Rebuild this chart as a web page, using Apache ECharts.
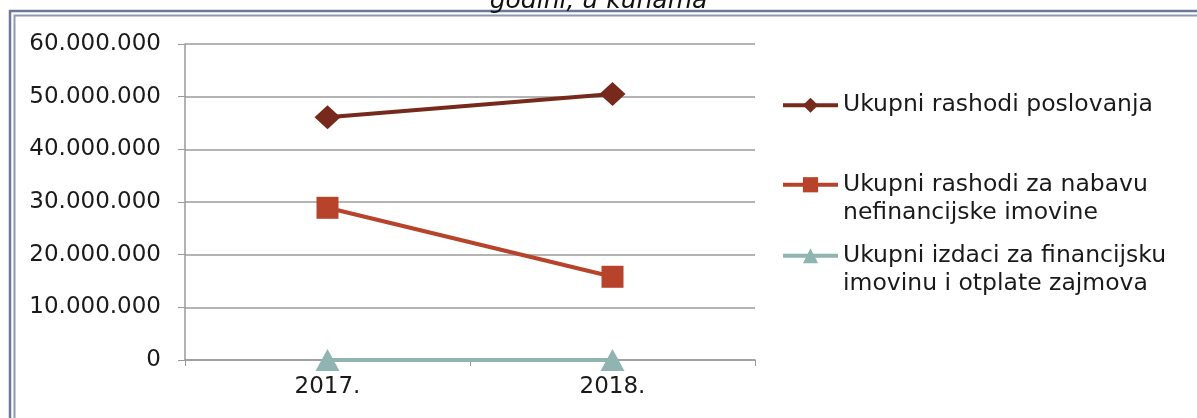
<!DOCTYPE html>
<html>
<head>
<meta charset="utf-8">
<script src="https://cdn.jsdelivr.net/npm/echarts@6/dist/echarts.min.js"></script>
<style>
  html, body { margin: 0; padding: 0; background: #ffffff; }
  #chart { width: 1197px; height: 418px; }
</style>
</head>
<body>
<div id="chart"></div>
<script>
// Years shown on the category axis
const years = ['2017.', '2018.'];

// Series names (legend text)
const seriesNames = [
  'Ukupni rashodi poslovanja',
  'Ukupni rashodi za nabavu\nnefinancijske imovine',
  'Ukupni izdaci za financijsku\nimovinu i otplate zajmova'
];

// Values in kuna per year
const rashodiPoslovanja = [46100000, 50500000];
const rashodiNefinancijska = [28900000, 15800000];
const izdaciFinancijska = [0, 0];

// Value axis range and step
const yMin = 0;
const yMax = 60000000;
const yStep = 10000000;

const FONT = "'DejaVu Sans', 'Liberation Sans', Arial, sans-serif";

function fmtThousands(v) {
  return String(v).replace(/\B(?=(\d{3})+(?!\d))/g, '.');
}

const chart = echarts.init(document.getElementById('chart'), null, { renderer: 'canvas' });

const legendText = {
  fontFamily: FONT, fontSize: 23.5, color: '#1a1a1a', lineHeight: 28.5
};

// Two-line names get a leading blank line so the first text line sits beside the icon
const twoLineFormatter = name => name.indexOf('\n') >= 0 ? '\n' + name : name;

function legendItem(name, top) {
  return {
    data: [name], orient: 'vertical', left: 781, top: top, padding: 0,
    itemWidth: 55, itemHeight: 19, itemGap: 0,
    formatter: twoLineFormatter,
    lineStyle: { width: 4 },
    textStyle: legendText
  };
}

chart.setOption({
  animation: false,
  backgroundColor: 'transparent',
  title: {
    text: 'godini, u kunama',
    left: 'center',
    top: -16,
    textStyle: { fontFamily: FONT, fontSize: 25, fontStyle: 'italic', fontWeight: 'normal', color: '#111' }
  },
  graphic: [
    {
      type: 'rect', silent: true, z: -10,
      shape: { x: 10, y: 11, width: 1220, height: 440 },
      style: { fill: 'none', stroke: '#6d7999', lineWidth: 2.5 }
    },
    {
      type: 'rect', silent: true, z: -10,
      shape: { x: 14.5, y: 15.5, width: 1220, height: 440 },
      style: { fill: 'none', stroke: '#8e99b6', lineWidth: 2 }
    }
  ],
  grid: { left: 185, right: 442, top: 44, bottom: 58 },
  legend: [
    legendItem(seriesNames[0], 91),
    legendItem(seriesNames[1], 142),
    legendItem(seriesNames[2], 213)
  ],
  xAxis: {
    type: 'category',
    data: years,
    boundaryGap: true,
    axisLine: { show: true, lineStyle: { color: '#9a9a9a', width: 1.5 } },
    axisTick: { show: true, length: 6, lineStyle: { color: '#9a9a9a' } },
    axisLabel: { fontFamily: FONT, fontSize: 23, color: '#1a1a1a', margin: 16 },
    splitLine: { show: false }
  },
  yAxis: {
    type: 'value',
    min: yMin, max: yMax, interval: yStep,
    axisLine: { show: true, lineStyle: { color: '#9a9a9a', width: 1.5 } },
    axisTick: { show: true, length: 7, lineStyle: { color: '#9a9a9a' } },
    axisLabel: {
      fontFamily: FONT, fontSize: 23, color: '#1a1a1a', margin: 24,
      formatter: fmtThousands
    },
    splitLine: { show: true, lineStyle: { color: '#b4b4b4', width: 2 } }
  },
  series: [
    {
      name: seriesNames[0], type: 'line', data: rashodiPoslovanja,
      symbol: 'diamond', symbolSize: [26, 24],
      lineStyle: { color: '#77291b', width: 4 },
      itemStyle: { color: '#77291b' }, z: 3
    },
    {
      name: seriesNames[1], type: 'line', data: rashodiNefinancijska,
      symbol: 'rect', symbolSize: 22,
      lineStyle: { color: '#b8432b', width: 4 },
      itemStyle: { color: '#b8432b' }, z: 3
    },
    {
      name: seriesNames[2], type: 'line', data: izdaciFinancijska,
      symbol: 'triangle', symbolSize: [24, 22],
      lineStyle: { color: '#8fb4b1', width: 4 },
      itemStyle: { color: '#8fb4b1' }, z: 3
    }
  ]
});
</script>
</body>
</html>
